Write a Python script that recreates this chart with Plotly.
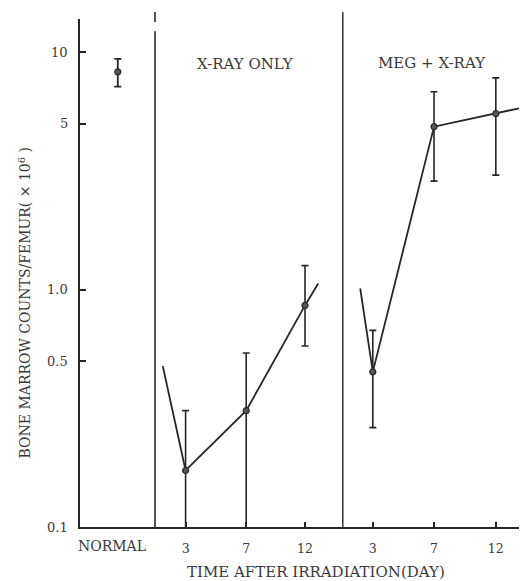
import math
import plotly.graph_objects as go

# ---- data ----
day_labels = ["3", "7", "12"]
normal_value = [8.25]
normal_err_plus = [1.1]
normal_err_minus = [1.1]

xray_values = [0.173, 0.309, 0.857]
xray_upper = [0.309, 0.54, 1.26]
xray_lower = [0.05, 0.05, 0.578]
xray_line_start = 0.476
xray_line_end = 1.06

meg_values = [0.45, 4.85, 5.5]
meg_upper = [0.673, 6.8, 7.78]
meg_lower = [0.262, 2.86, 3.03]
meg_line_start = 1.01
meg_line_end = 5.89

y_tick_vals = [0.1, 0.5, 1, 5, 10]
y_tick_text = ["0.1", "0.5", "1.0", "5", "10"]

# ---- layout positions (x slots, 60 px each) ----
x_normal = 0.63
x_normal_label = 0.53
xray_pos = [1.76, 2.77, 3.75]
meg_pos = [4.88, 5.9, 6.93]
sep_pos = [1.25, 4.38]
xray_ext = [1.38, 3.97]
meg_ext = [4.67, 7.45]

ink = "#262626"
txt = "#3a3a3a"
font_family = "DejaVu Serif"

fig = go.Figure()

def err(vals, up, lo):
    return dict(type="data", symmetric=False,
                array=[u - v for u, v in zip(up, vals)],
                arrayminus=[v - l for v, l in zip(vals, lo)],
                color=ink, thickness=1.6, width=3.5)

marker_style = dict(symbol="circle", size=6, color="#555", line=dict(color=ink, width=1.2))

# normal point
fig.add_trace(go.Scatter(
    x=[x_normal], y=normal_value, mode="markers", marker=marker_style,
    error_y=dict(type="data", symmetric=False, array=normal_err_plus,
                 arrayminus=normal_err_minus, color=ink, thickness=1.8, width=3.5),
    showlegend=False))

# x-ray only
fig.add_trace(go.Scatter(
    x=[xray_ext[0]] + xray_pos + [xray_ext[1]],
    y=[xray_line_start] + xray_values + [xray_line_end],
    mode="lines", line=dict(color=ink, width=1.8), showlegend=False))
fig.add_trace(go.Scatter(
    x=xray_pos, y=xray_values, mode="markers", marker=marker_style,
    error_y=err(xray_values, xray_upper, xray_lower), showlegend=False))

# MEG + x-ray
fig.add_trace(go.Scatter(
    x=[meg_ext[0]] + meg_pos + [meg_ext[1]],
    y=[meg_line_start] + meg_values + [meg_line_end],
    mode="lines", line=dict(color=ink, width=1.8), showlegend=False))
fig.add_trace(go.Scatter(
    x=meg_pos, y=meg_values, mode="markers", marker=marker_style,
    error_y=err(meg_values, meg_upper, meg_lower), showlegend=False))

# separator lines
fig.add_shape(type="line", xref="x", yref="paper", x0=sep_pos[0], x1=sep_pos[0],
              y0=0, y1=0.976, line=dict(color=ink, width=1.6))
fig.add_shape(type="line", xref="x", yref="paper", x0=sep_pos[0], x1=sep_pos[0],
              y0=0.994, y1=1.014, line=dict(color=ink, width=1.6))
fig.add_shape(type="line", xref="x", yref="paper", x0=sep_pos[1], x1=sep_pos[1],
              y0=0, y1=1.014, line=dict(color=ink, width=1.4))

# y tick labels (placed next to the axis; log axis -> annotation y in log10 units)
for v, t in zip(y_tick_vals, y_tick_text):
    fig.add_annotation(x=0, xref="paper", xanchor="right", xshift=-10,
                       y=math.log10(v), yref="y", yanchor="middle", text=t,
                       showarrow=False,
                       font=dict(family=font_family, size=13, color=txt))

# group labels
fig.add_annotation(x=2.75, y=0.911, xref="x", yref="paper", yanchor="middle",
                   text="X-RAY ONLY", showarrow=False,
                   font=dict(family=font_family, size=15, color=txt))
fig.add_annotation(x=5.87, y=0.913, xref="x", yref="paper", yanchor="middle",
                   text="MEG + X-RAY", showarrow=False,
                   font=dict(family=font_family, size=15, color=txt))

# NORMAL label
fig.add_annotation(x=x_normal_label, y=0, xref="x", yref="paper", yanchor="middle",
                   yshift=-19, text="NORMAL", showarrow=False,
                   font=dict(family=font_family, size=14, color=txt))

# axis titles
fig.add_annotation(x=(316 - 80) / 455, xref="paper", y=0, yref="paper",
                   yanchor="middle", yshift=-45,
                   text="TIME AFTER IRRADIATION(DAY)", showarrow=False,
                   font=dict(family=font_family, size=15, color=txt))
fig.add_annotation(x=0, xref="paper", xshift=-55, xanchor="center",
                   y=0.44, yref="paper", yanchor="middle",
                   text="BONE MARROW COUNTS/FEMUR( \u00d7 10<sup>6</sup> )",
                   textangle=-90, showarrow=False,
                   font=dict(family=font_family, size=14, color=txt))

fig.update_layout(
    width=527, height=581,
    margin=dict(l=72, r=0, t=11, b=62),
    paper_bgcolor="white", plot_bgcolor="white",
    xaxis=dict(range=[0, 7.583], showgrid=False, zeroline=False,
               showline=True, linecolor=ink, linewidth=2,
               tickmode="array", tickvals=xray_pos + meg_pos,
               ticktext=day_labels + day_labels,
               ticks="inside", ticklen=5, tickwidth=1.5, tickcolor=ink,
               ticklabelstandoff=9,
               tickfont=dict(family=font_family, size=12.5, color=txt)),
    yaxis=dict(type="log", range=[-1, 1.139], showgrid=False, zeroline=False,
               showline=True, linecolor=ink, linewidth=2,
               tickmode="array", tickvals=y_tick_vals,
               showticklabels=False,
               ticks="inside", ticklen=6, tickwidth=1.5, tickcolor=ink),
)

fig.write_html("out.html")
